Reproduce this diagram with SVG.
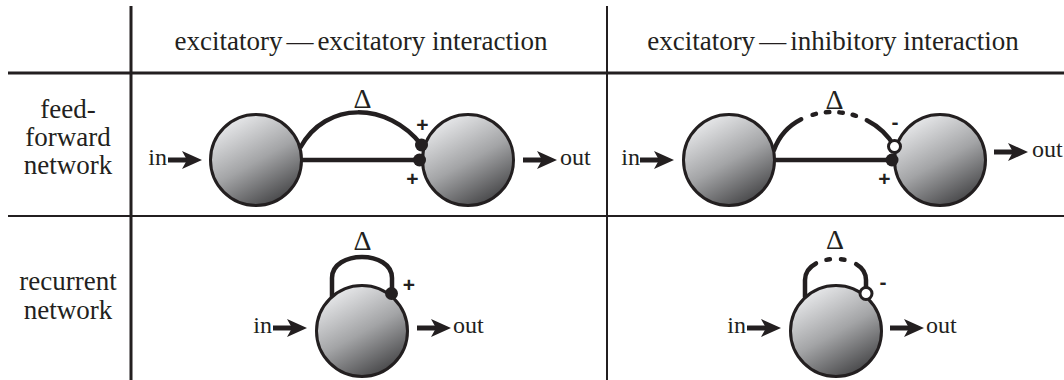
<svg xmlns="http://www.w3.org/2000/svg" width="1064" height="380" viewBox="0 0 1064 380">
<defs>
<linearGradient id="ball" x1="0.22" y1="0.05" x2="0.75" y2="1">
<stop offset="0" stop-color="#e9eaec"/>
<stop offset="0.5" stop-color="#a3a4a6"/>
<stop offset="1" stop-color="#404042"/>
</linearGradient>
<marker id="head" viewBox="0 0 20 18" refX="5" refY="9" markerWidth="20" markerHeight="18" markerUnits="userSpaceOnUse" orient="auto">
<path d="M0,0 L20,9 L0,18 L5,9 Z" fill="#231f20"/>
</marker>
</defs>
<style>
.grid{stroke:#231f20;fill:none}
.hdr{font-family:"Liberation Serif","Times New Roman",serif;font-size:27px;fill:#231f20}
.lbl{font-family:"Liberation Serif","Times New Roman",serif;font-size:27px;fill:#231f20;text-anchor:middle}
.io{font-family:"Liberation Serif","Times New Roman",serif;font-size:24px;fill:#231f20}
.delta{font-family:"Liberation Serif","Times New Roman",serif;font-size:28px;fill:#231f20;text-anchor:middle}
.sign{font-family:"Liberation Sans",Arial,sans-serif;font-size:21px;font-weight:bold;fill:#231f20;text-anchor:middle}
.cell{fill:url(#ball);stroke:#231f20;stroke-width:3}
.edge{fill:none;stroke:#231f20;stroke-width:4.5}
.dashed{stroke-linecap:round}
.arrow{fill:none;stroke:#231f20;stroke-width:5;marker-end:url(#head)}
.dotf{fill:#231f20}
.doto{fill:#ffffff;stroke:#231f20;stroke-width:3}
</style>
<g id="grid">
<line class="grid" x1="131" y1="6" x2="131" y2="380" stroke-width="3"/>
<line class="grid" x1="607" y1="6" x2="607" y2="380" stroke-width="2"/>
<line class="grid" x1="8" y1="73" x2="1064" y2="73" stroke-width="3"/>
<line class="grid" x1="8" y1="216" x2="1064" y2="216" stroke-width="2"/>
</g>
<g id="headers">
<text class="hdr" x="361" y="50" text-anchor="middle">excitatory<tspan dx="4">—</tspan><tspan dx="4">excitatory interaction</tspan></text>
<text class="hdr" x="833" y="50" text-anchor="middle">excitatory<tspan dx="4">—</tspan><tspan dx="4">inhibitory interaction</tspan></text>
<text class="lbl" x="68" y="118">feed-</text>
<text class="lbl" x="68" y="146">forward</text>
<text class="lbl" x="68" y="174">network</text>
<text class="lbl" x="68" y="290">recurrent</text>
<text class="lbl" x="68" y="319">network</text>
</g>
<g id="connectors">
<path class="edge" d="M300,148 C326,100 388,102 421.5,145"/>
<line class="edge" x1="301" y1="160" x2="419.5" y2="160"/>
<path class="edge dashed" d="M774,150 C792,100 868,100 894.5,146.5" stroke-dasharray="42 12.25 3.5 10 3.5 10 3.5 10 3.5 11.75 60"/>
<line class="edge" x1="774" y1="160" x2="892.5" y2="160"/>
<path class="edge" d="M332,297 L332,278 C332,250 392,250 392,278 L392,293"/>
<path class="edge dashed" d="M805,297 L805,280 C805,252 866,252 866,280 L866,293" stroke-dasharray="38 11 3.5 11 3.5 12.5 40"/>
<path class="arrow" d="M168,160 h19"/>
<path class="arrow" d="M523,160 h19"/>
<path class="arrow" d="M640,160 h19"/>
<path class="arrow" d="M994,152 h19"/>
<path class="arrow" d="M273,328 h19"/>
<path class="arrow" d="M417,328 h19"/>
<path class="arrow" d="M747,328 h19"/>
<path class="arrow" d="M890,328 h19"/>
</g>
<g id="node-ff-ee-1"><circle class="cell" cx="256" cy="160" r="45.5"/></g>
<g id="node-ff-ee-2"><circle class="cell" cx="468" cy="160" r="45.5"/></g>
<g id="node-ff-ei-1"><circle class="cell" cx="729" cy="160" r="45.5"/></g>
<g id="node-ff-ei-2"><circle class="cell" cx="940" cy="160" r="45.5"/></g>
<g id="node-rec-ee"><circle class="cell" cx="362" cy="331" r="45.5"/></g>
<g id="node-rec-ei"><circle class="cell" cx="836" cy="331" r="45.5"/></g>
<g id="synapses">
<circle class="dotf" cx="421.5" cy="145" r="6.5"/>
<circle class="dotf" cx="419.5" cy="160" r="6.5"/>
<circle class="dotf" cx="892" cy="160" r="6.5"/>
<circle class="doto" cx="894.5" cy="146.5" r="6"/>
<circle class="dotf" cx="391.5" cy="293.5" r="6.5"/>
<circle class="doto" cx="866" cy="293.5" r="6"/>
</g>
<g id="labels">
<text class="delta" x="362.5" y="108">Δ</text>
<text class="delta" x="834.5" y="109">Δ</text>
<text class="delta" x="362.5" y="250">Δ</text>
<text class="delta" x="835" y="249">Δ</text>
<text class="sign" x="422.5" y="131.5">+</text>
<text class="sign" x="412.5" y="186">+</text>
<text class="sign" x="895" y="128.5">-</text>
<text class="sign" x="884.5" y="185.5">+</text>
<text class="sign" x="409" y="292">+</text>
<text class="sign" x="883" y="288.5">-</text>
<text class="io" x="167" y="165" text-anchor="end">in</text>
<text class="io" x="560" y="165">out</text>
<text class="io" x="640" y="165" text-anchor="end">in</text>
<text class="io" x="1032" y="157">out</text>
<text class="io" x="272" y="333" text-anchor="end">in</text>
<text class="io" x="453" y="333">out</text>
<text class="io" x="746" y="333" text-anchor="end">in</text>
<text class="io" x="926" y="333">out</text>
</g>
</svg>
